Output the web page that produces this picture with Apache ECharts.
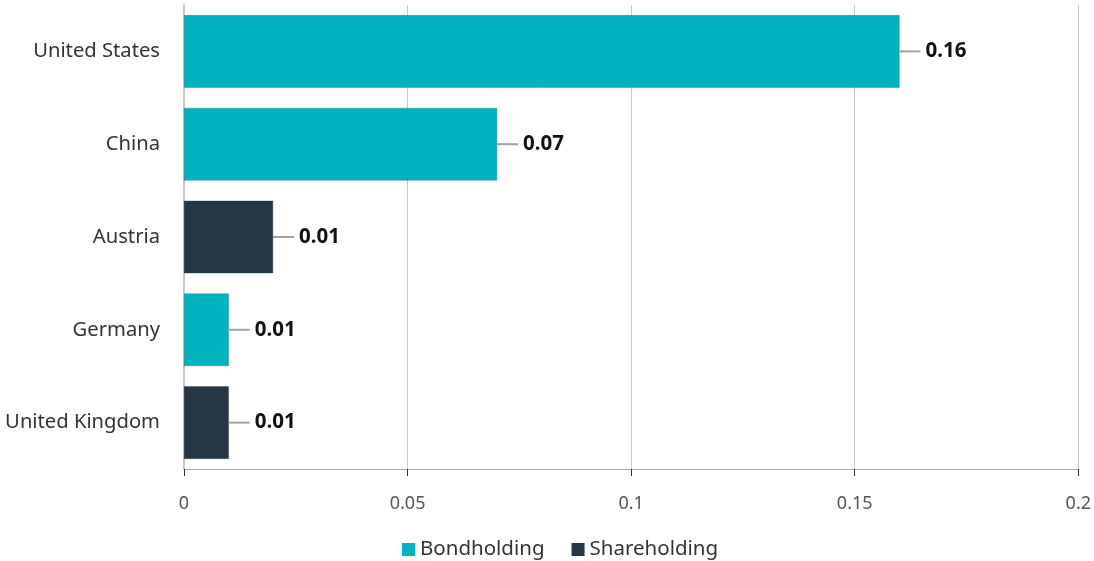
<!DOCTYPE html>
<html>
<head>
<meta charset="utf-8">
<script src="https://cdn.jsdelivr.net/npm/echarts@6/dist/echarts.min.js"></script>
<style>
html,body{margin:0;padding:0;background:#fff;}
#chart{width:1094px;height:561px;}
</style>
</head>
<body>
<div id="chart"></div>
<script>
const categories = ['United States', 'China', 'Austria', 'Germany', 'United Kingdom'];
const bondholding = [0.16, 0.07, '-', 0.01, '-'];
const shareholding = ['-', '-', 0.0199, '-', 0.01];
const valueLabels = ['0.16', '0.07', '0.01', '0.01', '0.01'];
const xTicks = [0, 0.05, 0.1, 0.15, 0.2];

const FONT = '"Noto Sans", sans-serif';

function makeLabel() {
  return {
    show: true,
    position: 'right',
    distance: 0,
    formatter: p => '{line|}{txt|' + valueLabels[p.dataIndex] + '}',
    rich: {
      line: { width: 21, height: 2, backgroundColor: '#a0a0a0', padding: 0 },
      txt: { fontFamily: FONT, fontWeight: 'bold', fontSize: 20.5, color: '#111', padding: [0, 0, 0, 5] }
    }
  };
}

const chart = echarts.init(document.getElementById('chart'));
chart.setOption({
  animation: false,
  color: ['#00B2BE', '#253746'],
  textStyle: { fontFamily: FONT },
  grid: { left: 184, right: 15, top: 5, bottom: 92, containLabel: false },
  legend: {
    top: 534,
    left: 397,
    itemWidth: 13,
    itemHeight: 13,
    itemGap: 27,
    icon: 'rect',
    itemStyle: { borderWidth: 0 },
    textStyle: { fontFamily: FONT, fontSize: 20.5, color: '#333' },
    data: ['Bondholding', 'Shareholding']
  },
  xAxis: {
    type: 'value',
    min: 0,
    max: 0.2,
    interval: 0.05,
    axisLine: { show: true, lineStyle: { color: '#aaa', width: 1 } },
    axisTick: { show: true, length: 7, lineStyle: { color: '#333' } },
    splitLine: { show: true, lineStyle: { color: '#c8c8c8' } },
    axisLabel: {
      margin: 26,
      fontSize: 18,
      color: '#555',
      fontFamily: FONT,
      formatter: v => { const t = xTicks.find(x => Math.abs(x - v) < 1e-9); return t === undefined ? '' : String(t); }
    }
  },
  yAxis: {
    type: 'category',
    inverse: true,
    data: categories,
    axisLine: { show: true, lineStyle: { color: '#c8c8c8', width: 2 } },
    axisTick: { show: false },
    axisLabel: { margin: 24, fontSize: 20.2, color: '#333', fontFamily: FONT }
  },
  series: [
    {
      name: 'Bondholding',
      type: 'bar',
      stack: 'total',
      barWidth: '78%',
      data: bondholding,
      itemStyle: { borderColor: '#2a5a60', borderWidth: 0.3 },
      label: makeLabel()
    },
    {
      name: 'Shareholding',
      type: 'bar',
      stack: 'total',
      barWidth: '78%',
      data: shareholding,
      itemStyle: { borderColor: '#1b2b38', borderWidth: 0.3 },
      label: makeLabel()
    }
  ]
});
</script>
</body>
</html>
